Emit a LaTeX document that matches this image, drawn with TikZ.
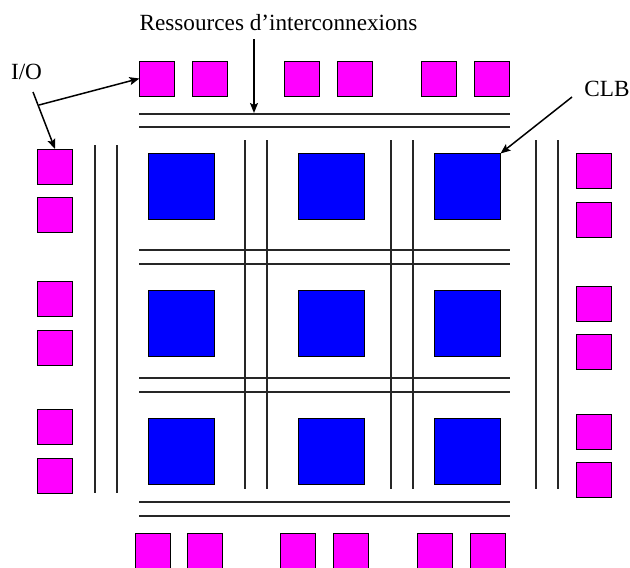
\documentclass[tikz,border=0pt]{standalone}
\usepackage{fontspec}
\setmainfont{Liberation Serif}
\usetikzlibrary{arrows.meta}
\definecolor{padmag}{RGB}{255,0,255}
\definecolor{clbblue}{RGB}{0,0,255}
\tikzset{
  iopad/.style={draw=black,fill=padmag,line width=1pt,minimum size=35pt,inner sep=0pt,outer sep=0pt},
  clb/.style={draw=black,fill=clbblue,line width=1pt,minimum size=66pt,inner sep=0pt,outer sep=0pt},
  wire/.style={line width=1.4pt,color=black!85},
  pointer/.style={line width=1.5pt,-{Stealth[length=10pt,width=8pt,inset=2pt]}},
  lbl/.style={font=\fontsize{23.2}{26}\selectfont,inner sep=0pt,text=black}
}
\begin{document}
\begin{tikzpicture}[x=1pt,y=-1pt]
\useasboundingbox (0,0) rectangle (630,568);
% top pads
\foreach \n/\x in {1/157,2/210,3/302,4/355,5/439,6/492}
  \node[iopad] (t\n) at (\x,78.5) {};
% bottom pads
\foreach \n/\x in {1/152.5,2/205,3/298,4/351,5/434.5,6/487.5}
  \node[iopad] (b\n) at (\x,550.5) {};
% left pads
\foreach \n/\y in {1/166.5,2/215,3/299,4/347.5,5/427,6/475.5}
  \node[iopad] (l\n) at (55,\y) {};
% right pads
\foreach \n/\y in {1/171,2/219.5,3/303.5,4/352,5/431.5,6/480}
  \node[iopad] (r\n) at (593.5,\y) {};
% CLBs
\foreach \r/\y in {1/186.5,2/323,3/451}
  \foreach \c/\x in {1/181,2/331,3/467.5}
    \node[clb] (c\r\c) at (\x,\y) {};
% horizontal wires
\foreach \n/\y in {1/114,2/127,3/250,4/264,5/378,6/392,7/502,8/516} {
  \coordinate (hl\n) at (139,\y);
  \coordinate (hr\n) at (510,\y);
  \draw[wire] (hl\n) -- (hr\n);
}
% vertical wires
\foreach \n/\x/\a/\b in {1/95/145/493,2/117/145/493,3/245/140/488.5,4/267/140/488.5,5/391/140/488.5,6/413/140/488.5,7/536/140/488.5,8/558/140/488.5} {
  \coordinate (vt\n) at (\x,\a);
  \coordinate (vb\n) at (\x,\b);
  \draw[wire] (vt\n) -- (vb\n);
}
% labels
\node[lbl,anchor=base] (res) at (278.5,30) {Ressources d’interconnexions};
\node[lbl,anchor=base] (io) at (26.5,79) {I/O};
\node[lbl,anchor=base] (clbl) at (607,96) {CLB};
% pointers
\coordinate (resstart) at (254,39);
\draw[pointer] (resstart) -- (254,113) coordinate (resend);
\coordinate (clbstart) at (572,97);
\draw[pointer] (clbstart) -- (c13.north east);
\coordinate (iostart) at (33,92);
\coordinate (iobranch) at (39,105);
\draw[pointer] (iostart) -- (l1.north);
\draw[pointer] (iobranch) -- (t1.west);
\end{tikzpicture}
\end{document}
